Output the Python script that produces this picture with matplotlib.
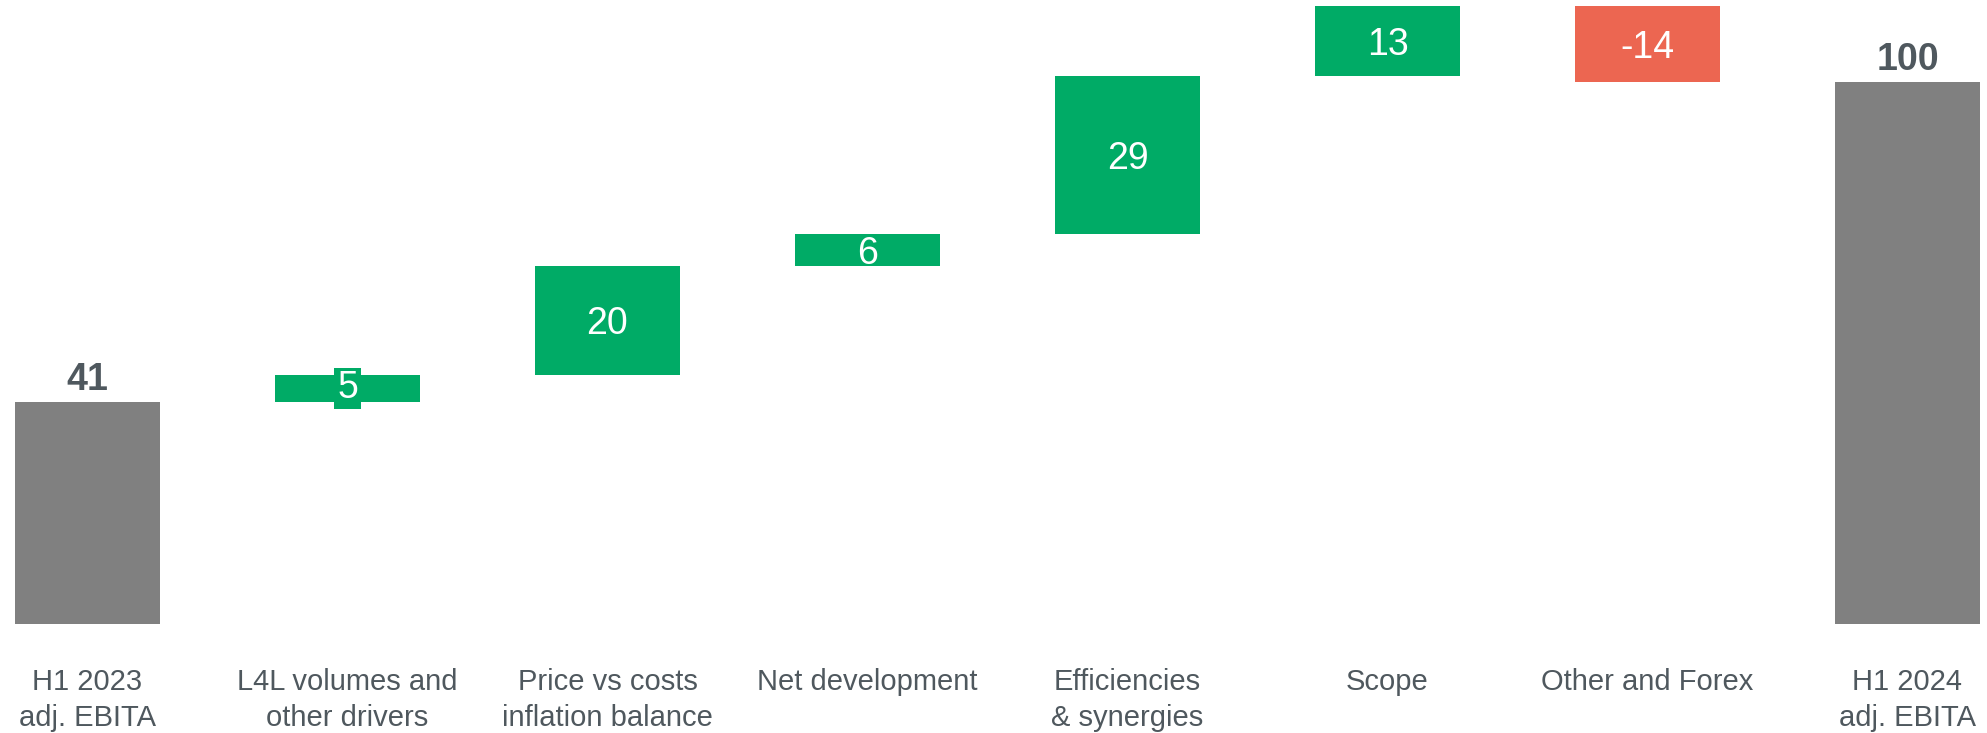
import matplotlib
matplotlib.use("Agg")
import matplotlib.pyplot as plt

plt.rcParams['font.family'] = ['Liberation Sans', 'DejaVu Sans']

# EBITA bridge, H1 2023 -> H1 2024
categories = ["H1 2023\nadj. EBITA", "L4L volumes and\nother drivers", "Price vs costs\ninflation balance",
              "Net development", "Efficiencies\n& synergies", "Scope", "Other and Forex",
              "H1 2024\nadj. EBITA"]
start_total = 41
steps = [5, 20, 6, 29, 13, -14]
end_total = 100

GREY = "#808080"
GREEN = "#00ab66"
RED = "#ec6651"
TEXT = "#4f585e"

fig = plt.figure(figsize=(19.87, 7.33), dpi=100)
# axes span full width; y=0 sits at px 624, top of scale at px 6
ax = fig.add_axes([0, 109 / 733, 1, 618 / 733])
ax.set_xlim(-87.5 / 260, (1987 - 87.5) / 260)
ax.set_ylim(0, 114)
ax.axis("off")

width = 0.558

# totals
ax.bar(0, start_total, width=width, color=GREY)
ax.bar(len(categories) - 1, end_total, width=width, color=GREY)
for i, v in [(0, start_total), (len(categories) - 1, end_total)]:
    ax.annotate(str(v), xy=(i, v), xytext=(0, 4), textcoords="offset pixels",
                ha="center", va="bottom", fontsize=27, fontweight="bold", color=TEXT)

# floating steps
level = start_total
for k, d in enumerate(steps):
    i = k + 1
    bottom = level if d > 0 else level + d
    col = GREEN if d > 0 else RED
    ax.bar(i, abs(d), bottom=bottom, width=width, color=col)
    if abs(d) < 6:
        ax.text(i, bottom + abs(d) / 2, str(d), ha="center", va="center",
                fontsize=27, color="white",
                bbox=dict(facecolor=col, edgecolor="none", pad=2))
    else:
        ax.text(i, bottom + abs(d) / 2, str(d), ha="center", va="center_baseline",
                fontsize=27, color="white")
    level += d

for i, lab in enumerate(categories):
    ax.annotate(lab, xy=(i, 0), xytext=(0, -44), textcoords="offset pixels",
                ha="center", va="top", fontsize=21, color=TEXT, linespacing=1.37)

fig.savefig("out.png", dpi=100, facecolor="white")
